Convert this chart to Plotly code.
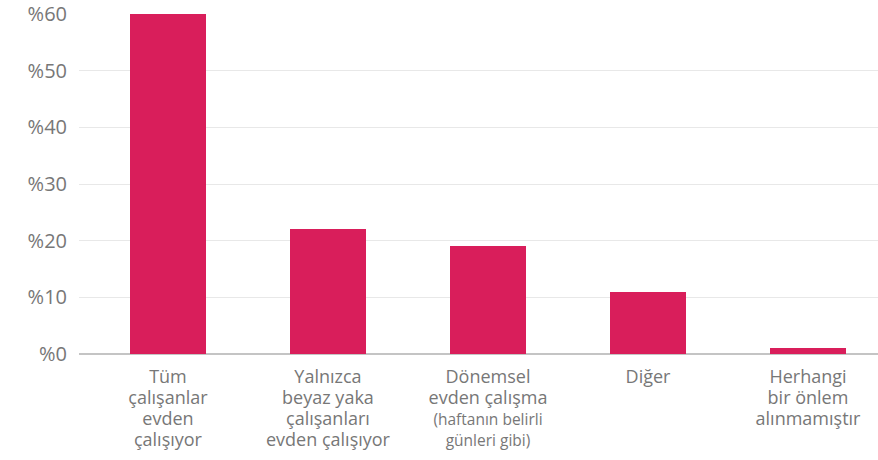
import plotly.graph_objects as go

category_lines = [
    ["Tüm", "çalışanlar", "evden", "çalışıyor"],
    ["Yalnızca", "beyaz yaka", "çalışanları", "evden çalışıyor"],
    ["Dönemsel", "evden çalışma", "(haftanın belirli", "günleri gibi)"],
    ["Diğer"],
    ["Herhangi", "bir önlem", "alınmamıştır"],
]
small_lines = {"(haftanın belirli", "günleri gibi)"}
values = [60, 22, 19, 11, 1]
ytick_vals = [0, 10, 20, 30, 40, 50, 60]
ytick_text = ["%0", "%10", "%20", "%30", "%40", "%50", "%60"]


def fmt(line):
    size = 15.5 if line in small_lines else 18
    return f"<span style='font-size:{size}px'>{line}</span>"


ticktext = ["<br>".join(fmt(l) for l in lines) for lines in category_lines]
x_idx = list(range(len(category_lines)))

fig = go.Figure(go.Bar(
    x=x_idx, y=values, width=0.475,
    marker=dict(color="#D91E5B", line=dict(width=0)),
    hoverinfo="skip",
))

fig.update_layout(
    width=878, height=460,
    margin=dict(l=79, r=0, t=14, b=106),
    paper_bgcolor="white", plot_bgcolor="white",
    font=dict(family="Open Sans, sans-serif", color="#777777"),
    showlegend=False,
    bargap=0,
)
fig.update_xaxes(
    range=[-0.556, 4.4375],
    tickvals=x_idx, ticktext=ticktext,
    tickfont=dict(size=16.2, color="#777777"),
    showgrid=False, zeroline=False, showline=False,
    ticks="", ticklabelstandoff=12,
)
fig.update_yaxes(
    range=[0, 60],
    tickvals=ytick_vals, ticktext=ytick_text,
    tickfont=dict(size=20, color="#777777"),
    showgrid=True, gridcolor="#e8e8e8", gridwidth=1,
    zeroline=True, zerolinecolor="#c4c4c4", zerolinewidth=2,
    showline=False, ticks="", ticklabelstandoff=11,
)

fig.write_html("out.html", config={"displayModeBar": False})

with open("out.html", "r", encoding="utf-8") as f:
    html = f.read()
html = html.replace("<head>", "<head><style>html,body{margin:0;padding:0;overflow:hidden;}</style>", 1)
with open("out.html", "w", encoding="utf-8") as f:
    f.write(html)
